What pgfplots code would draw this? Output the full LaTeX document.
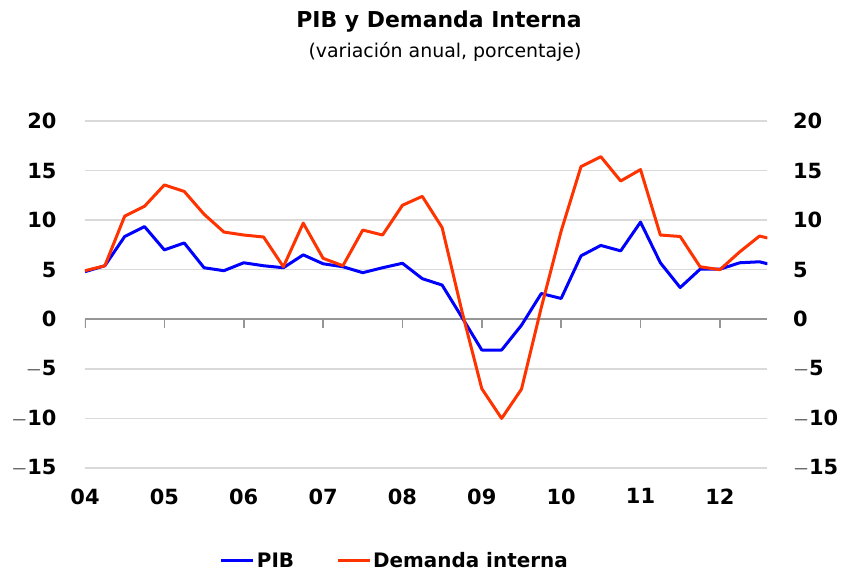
\documentclass[border=0pt]{standalone}
\usepackage{fontspec}
\setmainfont{DejaVu Sans}
\usepackage{pgfplots}
\pgfplotsset{compat=1.18}
\definecolor{pib}{RGB}{0,0,255}
\definecolor{dem}{RGB}{255,51,0}
\definecolor{gridc}{RGB}{217,217,217}
\definecolor{axc}{RGB}{150,150,150}
\begin{document}
\begin{tikzpicture}
\path[use as bounding box] (-85bp,-107bp) rectangle (760bp,468bp);
\pgfplotsset{
  base/.style={
    scale only axis, width=682.5bp, height=347bp,
    xmin=0, xmax=8.6, ymin=-15, ymax=20,
    ytick={-15,-10,...,20},
    /pgf/number format/assume math mode=true,
    ticklabel style={font=\fontsize{21}{25}\selectfont\bfseries},
    major tick length=0pt,
    axis line style={draw=none},
  }
}
% right labels
\begin{axis}[base,
  xtick=\empty,
  yticklabel pos=right,
  yticklabel style={xshift=22bp, anchor=west},
  yticklabels={$-$15,$-$10,$-$5,0,5,10,15,20},
]
\end{axis}
% main axis
\begin{axis}[base,
  ymajorgrids, grid style={gridc, line width=1.5bp},
  xtick={0,...,8},
  xticklabels={04,05,06,07,08,09,10,11,12},
  xticklabel style={yshift=-17bp},
  yticklabel style={xshift=-25bp, anchor=east},
  yticklabels={$-$15,$-$10,$-$5,0,5,10,15,20},
  legend style={draw=none, at={(0.454,-0.268)}, anchor=center,
    font=\fontsize{20}{24}\selectfont\bfseries,
    /tikz/every even column/.append style={column sep=40bp},
    inner sep=0pt},
  legend columns=2,
  legend cell align=left,
  legend image code/.code={\draw[#1, line width=3bp] (0bp,0bp) -- (32bp,0bp);},
]
\draw[axc, line width=2.2bp] (axis cs:0,0) -- (axis cs:8.6,0);
\pgfplotsinvokeforeach{0,...,8}{\draw[axc, line width=1.6bp] (axis cs:#1,0) -- ([yshift=-9bp]axis cs:#1,0);}
\addplot[pib, line width=3bp, line join=round] coordinates {
(0,4.8) (0.25,5.4) (0.5,8.35) (0.75,9.35) (1,7.0) (1.25,7.7) (1.5,5.2) (1.75,4.9)
(2,5.7) (2.25,5.4) (2.5,5.2) (2.75,6.5) (3,5.6) (3.25,5.3) (3.5,4.7) (3.75,5.2)
(4,5.65) (4.25,4.1) (4.5,3.45) (4.75,0.2) (5,-3.1) (5.25,-3.1) (5.5,-0.6) (5.75,2.6)
(6,2.1) (6.25,6.4) (6.5,7.45) (6.75,6.9) (7,9.8) (7.25,5.7) (7.5,3.2) (7.75,5.05)
(8,5.05) (8.25,5.7) (8.5,5.8) (8.6,5.6)
};
\addlegendentry{PIB}
\addplot[dem, line width=3bp, line join=round] coordinates {
(0,4.9) (0.25,5.4) (0.5,10.4) (0.75,11.4) (1,13.55) (1.25,12.9) (1.5,10.6) (1.75,8.8)
(2,8.5) (2.25,8.3) (2.5,5.3) (2.75,9.7) (3,6.15) (3.25,5.4) (3.5,9.0) (3.75,8.5)
(4,11.5) (4.25,12.4) (4.5,9.25) (4.75,0.8) (5,-7.0) (5.25,-10.0) (5.5,-7.05) (5.75,1.2)
(6,8.9) (6.25,15.4) (6.5,16.4) (6.75,13.95) (7,15.1) (7.25,8.5) (7.5,8.35) (7.75,5.3)
(8,5.0) (8.25,6.8) (8.5,8.4) (8.6,8.2)
};
\addlegendentry{Demanda interna}
\end{axis}
\node[font=\fontsize{22}{26}\selectfont\bfseries] at (354bp,446bp) {PIB y Demanda Interna};
\node[font=\fontsize{19}{22}\selectfont] at (360bp,416bp) {(variación anual, porcentaje)};
\end{tikzpicture}
\end{document}
